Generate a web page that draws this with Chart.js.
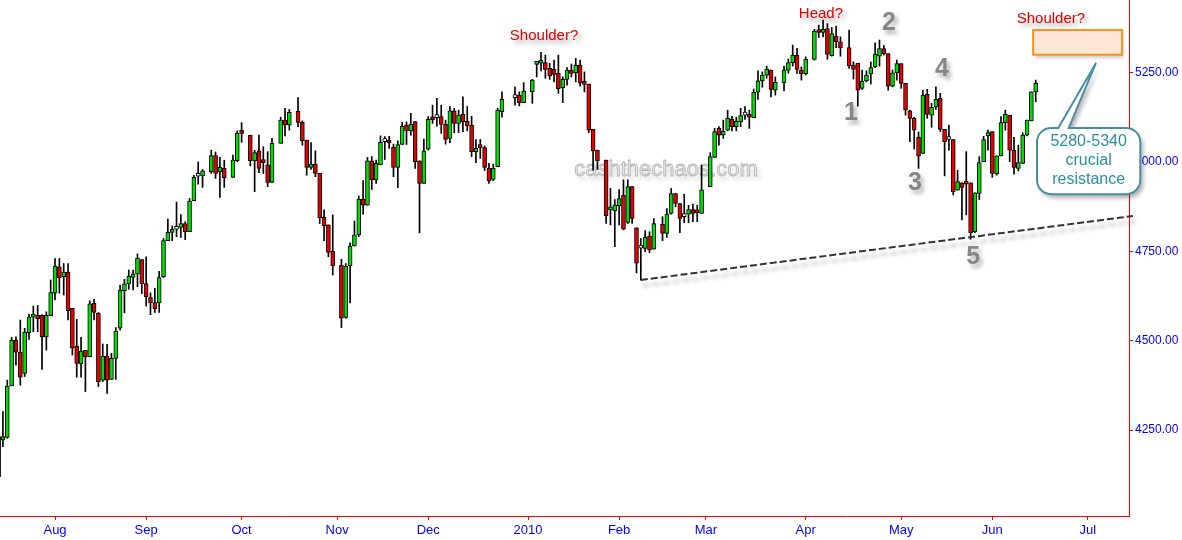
<!DOCTYPE html>
<html>
<head>
<meta charset="utf-8">
<script src="https://cdn.jsdelivr.net/npm/chart.js@4.4.1/dist/chart.umd.min.js"></script>
<style>
  html, body { margin: 0; padding: 0; background: #ffffff; }
</style>
</head>
<body>
<canvas id="candleChart" width="1182" height="540"></canvas>
<script>
// one slot per weekday from 15 Jul 2009, null = market closed
const opens = [
  4120, 4223, 4230, 4374, 4502, 4468, 4409, 4523, 4566, 4571,
  4571, 4511, 4570, 4633, 4707, 4679, 4692, 4591, 4485, 4435,
  4473, 4455, 4605, 4577, 4390, 4457, 4392, 4451, 4535, 4640,
  4659, 4677, 4687, 4727, 4660, 4621, 4607, 4606, 4679, 4780,
  4803, 4812, 4817, 4828, 4805, 4892, 4960, 4961, null, 4973,
  5018, 4973, 4982, null, 4957, 5004, 5084, null, 5075, 5003,
  5031, 5007, 4992, 4943, null, 5052, 5117, 5104, null, 5142,
  5111, 5061, 4985, 4994, 4968, 4845, 4824, 4751, null, 4712,
  4565, 4710, 4765, 4796, 4896, 4879, 5003, 4950, 4992, 5057,
  5058, 5041, 4985, 5049, 5103, 5087, 5113, 5003, 4940, 5036,
  5120, 5124, 5127, 5105, 5066, 5143, 5108, 5133, 5114, 5103,
  5029, 5045, 5040, 4982, 4951, 4987, 5141, null, null, 5180,
  5187, 5166, null, 5196, 5273, 5276, 5278, 5262, 5259, 5248,
  5208, 5231, 5257, 5250, 5271, 5223, 5218, 5091, 5033, null,
  5005, 4866, 4864, 4878, 4907, 4831, 4931, 4816, 4759, 4758,
  4793, 4756, null, 4826, 4800, 4856, 4912, 4884, 4847, 4854,
  4867, 4861, 4856, null, 4931, 5013, 5094, 5075, 5089, 5119,
  5099, 5113, 5131, 5130, 5124, 5195, 5227, 5243, 5257, 5201,
  null, 5222, 5257, 5278, 5299, 5257, 5246, null, 5287, 5366,
  5362, 5373, 5297, 5352, 5336, null, 5320, 5271, 5276, 5206,
  5227, 5246, 5266, 5296, 5317, 5303, 5212, 5249, 5275, 5220,
  5143, 5122, 5069, 5024, 5189, 5131, 5154, 5178, 5091, 5063,
  5063, 4921, 4942, 4943, 4942, 4805, 4912, 5001, 5073, 5085,
  4967, 5017, 5110, 5131, 5033, 4982, 4996, 5075, 5115, 5196
];
const highs = [
  4235, 4302, 4390, 4510, 4511, 4558, 4535, 4575, 4597, 4599,
  4573, 4581, 4670, 4730, 4730, 4716, 4716, 4591, 4560, 4510,
  4473, 4612, 4616, 4579, 4491, 4490, 4465, 4537, 4656, 4672,
  4698, 4698, 4743, 4727, 4735, 4634, 4647, 4694, 4786, 4840,
  4821, 4888, 4853, 4833, 4898, 4963, 5000, 4979, null, 5033,
  5028, 5013, 5005, null, 5019, 5087, 5110, null, 5075, 5033,
  5075, 5043, 5029, 5066, null, 5125, 5150, 5147, null, 5180,
  5115, 5061, 5054, 5031, 4968, 4866, 4824, 4852, null, 4728,
  4716, 4774, 4835, 4905, 4948, 5013, 5015, 5005, 5073, 5071,
  5072, 5050, 5059, 5111, 5112, 5136, 5113, 5003, 5064, 5127,
  5159, 5178, 5159, 5117, 5155, 5150, 5145, 5182, 5155, 5128,
  5063, 5063, 5045, 4996, 4994, 5150, 5196, null, null, 5210,
  5196, 5222, null, 5231, 5279, 5307, 5299, 5276, 5285, 5299,
  5238, 5264, 5274, 5290, 5285, 5252, 5218, 5091, 5033, null,
  5005, 4926, 4895, 4923, 4950, 4950, 4931, 4816, 4786, 4808,
  4805, 4842, null, 4847, 4870, 4926, 4912, 4884, 4910, 4879,
  4882, 4879, 4991, null, 5026, 5094, 5099, 5117, 5145, 5128,
  5125, 5150, 5155, 5145, 5204, 5255, 5252, 5268, 5257, 5238,
  null, 5268, 5288, 5327, 5318, 5266, 5294, null, 5371, 5383,
  5397, 5387, 5376, 5380, 5350, null, 5369, 5280, 5276, 5257,
  5255, 5280, 5333, 5341, 5326, 5303, 5257, 5285, 5275, 5220,
  5145, 5125, 5084, 5201, 5203, 5164, 5210, 5192, 5091, 5103,
  5063, 4977, 4942, 5029, 4942, 4914, 5015, 5072, 5089, 5085,
  5017, 5127, 5145, 5131, 5069, 5047, 5082, 5117, 5196, 5229
];
const lows = [
  4118, 4204, 4227, 4374, 4432, 4376, 4400, 4504, 4525, 4525,
  4420, 4474, 4570, 4614, 4633, 4628, 4558, 4460, 4398, 4398,
  4358, 4455, 4558, 4372, 4386, 4353, 4392, 4392, 4530, 4578,
  4644, 4642, 4651, 4632, 4597, 4573, 4579, 4579, 4677, 4780,
  4780, 4791, 4789, 4783, 4805, 4892, 4938, 4929, null, 4968,
  4954, 4901, 4929, null, 4957, 5001, 5055, null, 4989, 4917,
  4970, 4968, 4931, 4943, null, 5052, 5073, 5089, null, 5099,
  5047, 4963, 4979, 4959, 4828, 4780, 4735, 4684, null, 4537,
  4563, 4606, 4765, 4791, 4854, 4879, 4923, 4940, 4992, 5007,
  5038, 4959, 4928, 5049, 5049, 5075, 4982, 4802, 4940, 5033,
  5108, 5100, 5080, 5050, 5054, 5082, 5082, 5085, 5087, 5015,
  4998, 5010, 4976, 4940, 4948, 4987, 5125, null, null, 5159,
  5157, 5166, null, 5164, 5238, 5255, 5234, 5231, 5224, 5192,
  5166, 5215, 5238, 5224, 5212, 5196, 5082, 4977, 4979, null,
  4828, 4824, 4763, 4824, 4810, 4828, 4828, 4690, 4670, 4749,
  4746, 4756, null, 4780, 4789, 4854, 4875, 4802, 4830, 4830,
  4833, 4833, 4856, null, 4931, 5013, 5047, 5066, 5087, 5087,
  5087, 5099, 5119, 5094, 5124, 5175, 5209, 5234, 5182, 5187,
  null, 5199, 5248, 5268, 5248, 5229, 5243, null, 5285, 5348,
  5350, 5287, 5296, 5320, 5296, null, 5262, 5232, 5156, 5203,
  5224, 5218, 5264, 5268, 5299, 5201, 5210, 5229, 5206, 5131,
  5057, 5036, 4982, 5024, 5122, 5097, 5147, 5085, 4961, 5033,
  4908, 4921, 4838, 4852, 4784, 4802, 4895, 5001, 5033, 4957,
  4963, 5017, 5089, 5001, 4966, 4975, 4996, 5073, 5115, 5168
];
const closes = [
  4232, 4232, 4373, 4502, 4468, 4398, 4524, 4566, 4571, 4562,
  4511, 4571, 4635, 4709, 4676, 4692, 4584, 4479, 4437, 4471,
  4455, 4603, 4579, 4386, 4457, 4390, 4451, 4527, 4642, 4659,
  4681, 4687, 4731, 4660, 4623, 4606, 4590, 4677, 4780, 4803,
  4812, 4812, 4828, 4805, 4891, 4957, 4960, 4975, null, 5018,
  4968, 4985, 4956, null, 5005, 5080, 5080, null, 5003, 5026,
  4982, 4998, 4943, 5052, null, 5117, 5104, 5139, null, 5111,
  5059, 4985, 4994, 4968, 4844, 4822, 4747, 4710, null, 4563,
  4709, 4765, 4796, 4896, 4879, 5003, 4950, 4996, 5055, 5057,
  5053, 4985, 5049, 5100, 5087, 5106, 5001, 4940, 5031, 5119,
  5118, 5124, 5105, 5063, 5143, 5108, 5131, 5113, 5101, 5029,
  5038, 5040, 4985, 4948, 4982, 5145, 5175, null, null, 5180,
  5166, 5198, null, 5229, 5278, 5280, 5259, 5241, 5245, 5205,
  5231, 5257, 5248, 5271, 5222, 5217, 5089, 5031, 5004, null,
  4850, 4871, 4880, 4898, 4812, 4931, 4842, 4717, 4759, 4789,
  4754, 4828, null, 4800, 4854, 4912, 4884, 4842, 4847, 4867,
  4856, 4858, 4922, null, 5015, 5085, 5075, 5086, 5122, 5099,
  5114, 5130, 5131, 5125, 5195, 5227, 5243, 5259, 5203, 5223,
  null, 5257, 5278, 5299, 5259, 5246, 5287, null, 5366, 5362,
  5371, 5301, 5359, 5336, 5319, null, 5269, 5259, 5201, 5226,
  5243, 5264, 5302, 5317, 5303, 5212, 5249, 5275, 5220, 5145,
  5122, 5089, 5016, 5187, 5133, 5153, 5175, 5091, 5057, 5063,
  4917, 4945, 4929, 4938, 4802, 4914, 4998, 5063, 5082, 4968,
  5017, 5110, 5133, 5033, 4985, 4998, 5075, 5117, 5196, 5220
];

const monthIdx = [13, 34, 56, 78, 99, 122, 143, 163, 186, 208, 229, 251];
const monthLabels = ["Aug", "Sep", "Oct", "Nov", "Dec", "2010", "Feb", "Mar", "Apr", "May", "Jun", "Jul"];
const priceTicks = [4250, 4500, 4750, 5000, 5250];

const trendIdx = [148, 261.4];
const trendPrice = [4670, 4849];

const redNotes = [
  { text: "Shoulder?", idx: 125.7, price: 5352 },
  { text: "Head?", idx: 189.5, price: 5414 },
  { text: "Shoulder?", idx: 242.5, price: 5400 },
];
const waveNotes = [
  { text: "1", idx: 196.4, price: 5137 },
  { text: "2", idx: 205.2, price: 5388 },
  { text: "3", idx: 211.2, price: 4941 },
  { text: "4", idx: 217.4, price: 5260 },
  { text: "5", idx: 224.6, price: 4734 },
];
const zoneBox = { idx: [238.4, 258.9], price: [5300, 5369] };
const bubble = {
  idx: [239.3, 263.1], price: [4910, 5095],
  tipIdx: 252.9, tipPrice: 5277, baseIdx: [244.2, 246.6],
  lines: ["5280-5340", "crucial", "resistance"], linePrice: [5056, 5003, 4952],
};

const FONT = "Liberation Sans, Arial, sans-serif";
const UP = "#00dd00";
const DOWN = "#e60000";

const wickData = [];
const bodyData = [];
opens.forEach((o, i) => {
  if (o === null) return;
  wickData.push({ x: i, y: [lows[i], highs[i]] });
  bodyData.push({ x: i, y: [o, closes[i]] });
});

function bodyColor(ctx) {
  const v = ctx.raw && ctx.raw.y;
  if (!v) return "#ffffff";
  if (v[1] > v[0]) return UP;
  if (v[1] < v[0]) return DOWN;
  return "#ffffff";
}

function shadowOn(ctx, dx, dy, blur, alpha) {
  ctx.shadowColor = `rgba(0,0,0,${alpha})`;
  ctx.shadowOffsetX = dx;
  ctx.shadowOffsetY = dy;
  ctx.shadowBlur = blur;
}

function noPadding(scale) {
  scale.paddingTop = 0;
  scale.paddingBottom = 0;
  scale.paddingLeft = 0;
  scale.paddingRight = 0;
}

const notesPlugin = {
  id: "notes",
  beforeDatasetsDraw(chart) {
    const { ctx, scales } = chart;
    ctx.save();
    ctx.font = `22px ${FONT}`;
    ctx.textAlign = "center";
    ctx.textBaseline = "middle";
    const x = scales.x.getPixelForValue(153.8);
    const y = scales.y.getPixelForValue(4977);
    shadowOn(ctx, 3, 4, 4, 0.2);
    ctx.fillStyle = "rgba(235,235,235,0.9)";
    ctx.fillText("cashthechaos.com", x, y);
    shadowOn(ctx, 0, 0, 0, 0);
    ctx.strokeStyle = "rgba(150,150,150,0.7)";
    ctx.lineWidth = 0.8;
    ctx.strokeText("cashthechaos.com", x, y);
    ctx.restore();
  },
  beforeDatasetDraw(chart, args) {
    if (args.index !== 2) return;
    chart.ctx.save();
    shadowOn(chart.ctx, 2, 6, 4, 0.3);
  },
  afterDatasetDraw(chart, args) {
    if (args.index !== 2) return;
    chart.ctx.restore();
  },
  afterDraw(chart) {
    const { ctx, scales } = chart;
    const px = (i) => scales.x.getPixelForValue(i);
    const py = (p) => scales.y.getPixelForValue(p);

    ctx.save();
    ctx.textAlign = "center";
    ctx.textBaseline = "middle";

    ctx.font = `15px ${FONT}`;
    redNotes.forEach((n) => {
      ctx.save();
      shadowOn(ctx, 3, 4, 4, 0.35);
      ctx.fillStyle = "#e00000";
      ctx.fillText(n.text, px(n.idx), py(n.price));
      ctx.restore();
    });

    ctx.font = `bold 25px ${FONT}`;
    waveNotes.forEach((n) => {
      ctx.save();
      shadowOn(ctx, 3, 4, 4, 0.3);
      ctx.fillStyle = "#878787";
      ctx.fillText(n.text, px(n.idx), py(n.price));
      ctx.restore();
    });

    // orange resistance zone
    const bx0 = px(zoneBox.idx[0]);
    const bx1 = px(zoneBox.idx[1]);
    const by0 = py(zoneBox.price[1]);
    const by1 = py(zoneBox.price[0]);
    ctx.save();
    shadowOn(ctx, 2, 3, 3, 0.2);
    ctx.fillStyle = "#fde6d6";
    ctx.fillRect(bx0, by0, bx1 - bx0, by1 - by0);
    ctx.restore();
    ctx.strokeStyle = "#f7941d";
    ctx.lineWidth = 2;
    ctx.strokeRect(bx0, by0, bx1 - bx0, by1 - by0);

    // callout bubble
    const L = px(bubble.idx[0]);
    const R = px(bubble.idx[1]);
    const T = py(bubble.price[1]);
    const B = py(bubble.price[0]);
    const r = 14;
    ctx.beginPath();
    ctx.moveTo(L + r, T);
    ctx.lineTo(px(bubble.baseIdx[0]), T);
    ctx.lineTo(px(bubble.tipIdx), py(bubble.tipPrice));
    ctx.lineTo(px(bubble.baseIdx[1]), T);
    ctx.lineTo(R - r, T);
    ctx.arcTo(R, T, R, T + r, r);
    ctx.lineTo(R, B - r);
    ctx.arcTo(R, B, R - r, B, r);
    ctx.lineTo(L + r, B);
    ctx.arcTo(L, B, L, B - r, r);
    ctx.lineTo(L, T + r);
    ctx.arcTo(L, T, L + r, T, r);
    ctx.closePath();
    ctx.save();
    shadowOn(ctx, 3, 4, 4, 0.3);
    ctx.fillStyle = "#ffffff";
    ctx.fill();
    ctx.restore();
    ctx.strokeStyle = "#4a8ea4";
    ctx.lineWidth = 2;
    ctx.stroke();

    ctx.font = `16px ${FONT}`;
    ctx.fillStyle = "#2a8fa0";
    const cx = (L + R) / 2;
    bubble.lines.forEach((t, k) => ctx.fillText(t, cx, py(bubble.linePrice[k])));

    ctx.restore();
  },
};

new Chart(document.getElementById("candleChart"), {
  type: "bar",
  data: {
    datasets: [
      {
        label: "wick",
        data: wickData,
        backgroundColor: "#000000",
        borderWidth: 0,
        barThickness: 1,
        grouped: false,
        order: 3,
      },
      {
        label: "body",
        data: bodyData,
        backgroundColor: bodyColor,
        borderColor: "#000000",
        borderWidth: 1,
        borderSkipped: false,
        barThickness: 4,
        minBarLength: 3,
        grouped: false,
        order: 2,
      },
      {
        type: "line",
        label: "trend",
        data: trendIdx.map((x, k) => ({ x, y: trendPrice[k] })),
        borderColor: "#333333",
        borderWidth: 2,
        borderDash: [7, 3],
        pointRadius: 0,
        clip: false,
        order: 1,
      },
    ],
  },
  options: {
    responsive: false,
    animation: false,
    layout: { padding: 0 },
    plugins: {
      legend: { display: false },
      tooltip: { enabled: false },
    },
    scales: {
      x: {
        type: "linear",
        min: 0.32,
        max: 260.5,
        offset: false,
        afterBuildTicks: (scale) => {
          scale.ticks = monthIdx.map((v) => ({ value: v }));
        },
        afterFit: (scale) => {
          scale.height = 24;
          noPadding(scale);
        },
        ticks: {
          autoSkip: false,
          maxRotation: 0,
          padding: 3,
          color: "#0000ff",
          font: { family: FONT, size: 13 },
          callback: (v) => monthLabels[monthIdx.indexOf(v)],
        },
        grid: { drawOnChartArea: false, offset: false, tickLength: 4, color: "#ff0000" },
        border: { color: "#ff0000", width: 1 },
      },
      y: {
        position: "right",
        min: 4010,
        max: 5453,
        afterBuildTicks: (scale) => {
          scale.ticks = priceTicks.map((v) => ({ value: v }));
        },
        afterFit: (scale) => {
          scale.width = 53;
          noPadding(scale);
        },
        ticks: {
          padding: 2,
          color: "#0000ff",
          font: { family: FONT, size: 12 },
          callback: (v) => Number(v).toFixed(2),
        },
        grid: { drawOnChartArea: false, tickLength: 4, color: "#ff0000" },
        border: { color: "#ff0000", width: 1 },
      },
    },
  },
  plugins: [notesPlugin],
});
</script>
</body>
</html>
